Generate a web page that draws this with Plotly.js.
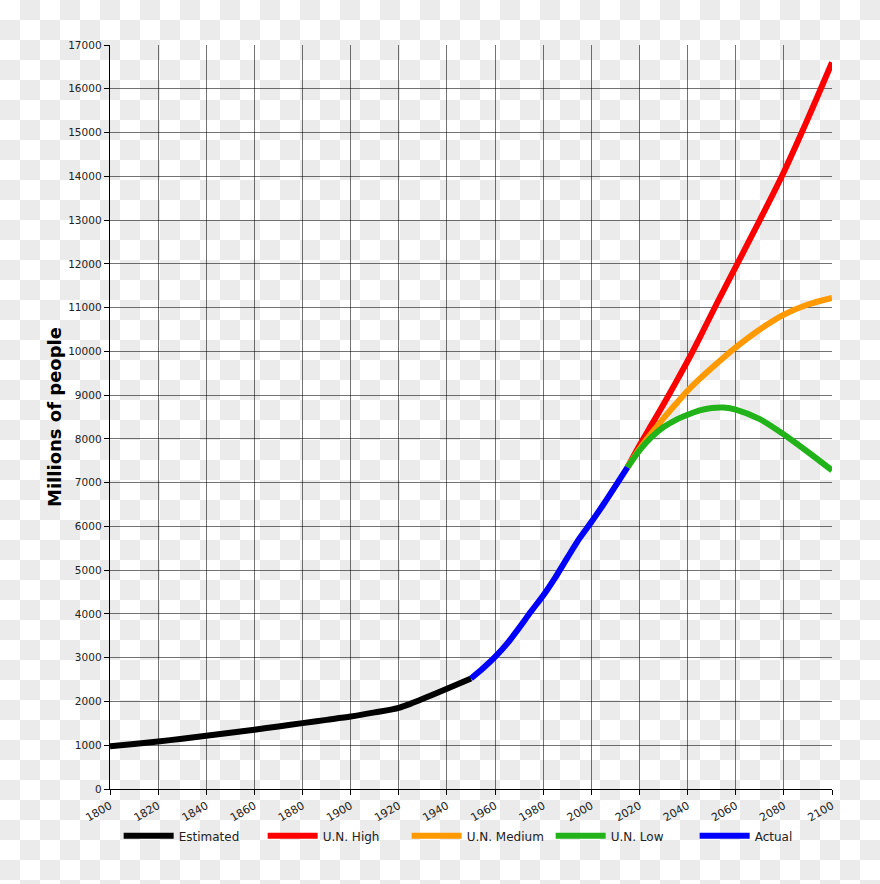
<!DOCTYPE html>
<html>
<head>
<meta charset="utf-8">
<script src="https://cdn.plot.ly/plotly-3.0.1.min.js"></script>
<style>
  html, body { margin: 0; padding: 0; }
  body {
    width: 880px; height: 884px;
    background: repeating-conic-gradient(#ebebeb 0 25%, #ffffff 0 50%) 0 0 / 40px 40px;
  }
  #chart { width: 880px; height: 884px; }
</style>
</head>
<body>
<div id="chart"></div>
<script>
// ---- data (millions of people) ----
const estYears = [1800, 1810, 1820, 1830, 1840, 1850, 1860, 1870, 1880, 1890, 1900, 1910, 1920, 1925, 1930, 1940, 1950];
const estValues = [975, 1030, 1085, 1150, 1215, 1285, 1355, 1430, 1505, 1580, 1655, 1750, 1855, 1950, 2060, 2290, 2525];

const actYears = [1950, 1955, 1960, 1965, 1970, 1975, 1980, 1985, 1990, 1995, 2000, 2005, 2010, 2015];
const actValues = [2525, 2758, 3018, 3322, 3682, 4061, 4420, 4830, 5280, 5720, 6100, 6500, 6920, 7349];

const projYears = [2015, 2020, 2025, 2030, 2035, 2040, 2045, 2050, 2055, 2060, 2070, 2080, 2090, 2100];
const highValues = [7349, 7850, 8320, 8790, 9280, 9780, 10310, 10860, 11400, 11930, 13000, 14100, 15320, 16600];
const mediumValues = [7349, 7770, 8130, 8470, 8790, 9100, 9370, 9620, 9860, 10090, 10500, 10840, 11070, 11220];
const lowValues = [7349, 7740, 8040, 8270, 8430, 8550, 8650, 8705, 8715, 8670, 8450, 8100, 7700, 7280];

const seriesNames = ['Estimated', 'U.N. High', 'U.N. Medium', 'U.N. Low', 'Actual'];
const seriesColors = ['#000000', '#ff0000', '#ff9900', '#22b31a', '#0000ff'];

const xTicks = [1800, 1820, 1840, 1860, 1880, 1900, 1920, 1940, 1960, 1980, 2000, 2020, 2040, 2060, 2080, 2100];
const yTicks = [0, 1000, 2000, 3000, 4000, 5000, 6000, 7000, 8000, 9000, 10000, 11000, 12000, 13000, 14000, 15000, 16000, 17000];

const xs = [estYears, projYears, projYears, projYears, actYears];
const ys = [estValues, highValues, mediumValues, lowValues, actValues];

const traces = seriesNames.map((name, i) => ({
  x: xs[i], y: ys[i], name: name, type: 'scatter', mode: 'lines',
  line: { color: seriesColors[i], width: 6, shape: 'spline', smoothing: 0.8 },
  hoverinfo: 'skip'
}));

const font = { family: 'DejaVu Sans, sans-serif', size: 11, color: '#222' };

const layout = {
  width: 880, height: 884,
  paper_bgcolor: 'rgba(0,0,0,0)',
  plot_bgcolor: 'rgba(0,0,0,0)',
  margin: { l: 110, r: 47.5, t: 45, b: 95 },
  font: font,
  showlegend: true,
  legend: {
    orientation: 'h', x: 0.012, xanchor: 'left', y: -0.063, yanchor: 'middle',
    entrywidth: 79, entrywidthmode: 'pixels', itemwidth: 50,
    bgcolor: 'rgba(0,0,0,0)', font: { family: 'DejaVu Sans, sans-serif', size: 12, color: '#222' }
  },
  xaxis: {
    range: [1800, 2100], tickmode: 'array', tickvals: xTicks, ticktext: xTicks.map(String),
    tickangle: -30, ticks: 'outside', ticklen: 5, tickcolor: '#000', tickwidth: 1,
    showline: true, linecolor: '#000', linewidth: 1.3, mirror: false,
    showgrid: true, gridcolor: 'rgba(0,0,0,0.55)', gridwidth: 1, zeroline: false,
    tickfont: { family: 'DejaVu Sans, sans-serif', size: 11, color: '#222' }
  },
  yaxis: {
    range: [0, 17000], tickmode: 'array', tickvals: yTicks, ticktext: yTicks.map(String),
    ticks: 'outside', ticklen: 5, tickcolor: '#000', tickwidth: 1,
    showline: true, linecolor: '#000', linewidth: 1.3,
    showgrid: true, gridcolor: 'rgba(0,0,0,0.55)', gridwidth: 1, zeroline: false,
    tickfont: { family: 'DejaVu Sans, sans-serif', size: 10.5, color: '#222' },
    title: { text: 'Millions of people', font: { family: 'DejaVu Sans, sans-serif', size: 18, color: '#000', weight: 'bold' }, standoff: 2 }
  }
};

Plotly.newPlot('chart', traces, layout, { staticPlot: true, displayModeBar: false });
</script>
</body>
</html>
